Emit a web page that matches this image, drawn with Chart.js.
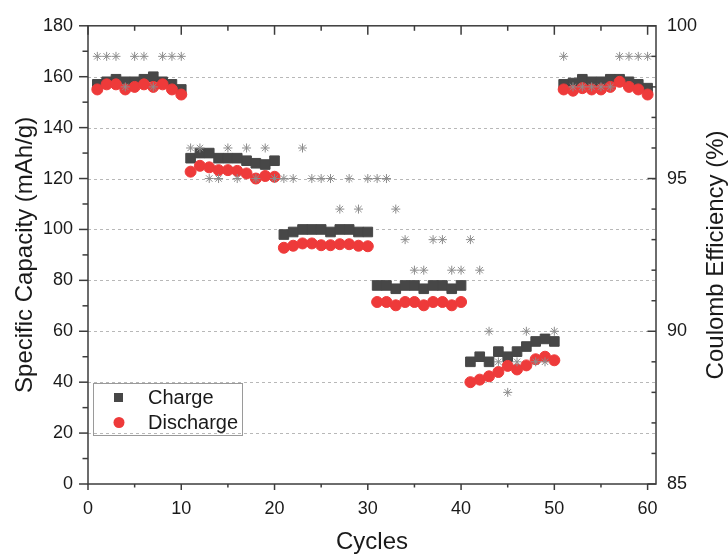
<!DOCTYPE html>
<html>
<head>
<meta charset="utf-8">
<script src="https://cdn.jsdelivr.net/npm/chart.js@4.4.1/dist/chart.umd.min.js"></script>
<style>
  html, body { margin: 0; padding: 0; background: #fff; }
  canvas { display: block; }
</style>
</head>
<body>
<canvas id="rateChart" width="728" height="554"></canvas>
<script>
// ===== data =====
const cycles = [
    1, 2, 3, 4, 5, 6, 7, 8, 9, 10,
    11, 12, 13, 14, 15, 16, 17, 18, 19, 20,
    21, 22, 23, 24, 25, 26, 27, 28, 29, 30,
    31, 32, 33, 34, 35, 36, 37, 38, 39, 40,
    41, 42, 43, 44, 45, 46, 47, 48, 49, 50,
    51, 52, 53, 54, 55, 56, 57, 58, 59, 60
];
const charge = [
    157, 158, 159, 158, 158, 159, 160, 158, 157, 155,
    128, 130, 130, 128, 128, 128, 127, 126, 125.5, 127,
    98, 99, 100, 100, 100, 99, 100, 100, 99, 99,
    78, 78, 76.7, 78, 78, 76.7, 78, 78, 76.7, 78,
    48, 50, 48, 52, 50, 52, 54, 56, 57, 56,
    157, 157.5, 159, 158, 158, 159, 159, 158, 157, 155.5
];
const discharge = [
    155, 157, 157, 155, 156, 157, 156, 157, 155, 153,
    122.7, 125, 124.4, 123.3, 123.3, 123, 122, 120, 121, 120.7,
    92.8, 93.6, 94.5, 94.5, 93.8, 93.8, 94.2, 94.2, 93.6, 93.4,
    71.5, 71.5, 70.2, 71.5, 71.5, 70.2, 71.5, 71.5, 70.2, 71.5,
    40, 41, 42.3, 44, 46.4, 45, 46.6, 49, 50, 48.6,
    155, 154.5, 155.5, 155, 155, 156, 158, 156, 155, 153
];
const coulombEff = [
    99, 99, 99, 98, 99, 99, 98, 99, 99, 99,
    96, 96, 95, 95, 96, 95, 96, 95, 96, 95,
    95, 95, 96, 95, 95, 95, 94, 95, 94, 95,
    95, 95, 94, 93, 92, 92, 93, 93, 92, 92,
    93, 92, 90, 89, 88, 89, 90, 89, 89, 90,
    99, 98, 98, 98, 98, 98, 99, 99, 99, 99
];

const xTicks = [0, 10, 20, 30, 40, 50, 60];
const xMinorTicks = [5, 15, 25, 35, 45, 55];
const yTicks = [0, 20, 40, 60, 80, 100, 120, 140, 160, 180];
const yMinorTicks = [10, 30, 50, 70, 90, 110, 130, 150, 170];
const yGrid = [20, 40, 60, 80, 100, 120, 140, 160];
const y1Ticks = [85, 90, 95, 100];
const y1MinorTicks = [86, 87, 88, 89, 91, 92, 93, 94, 96, 97, 98, 99];

const legendItems = ['Charge', 'Discharge'];
const rightTitle = 'Coulomb Efficiency (%)';

const FONT = "'Liberation Sans', Arial, sans-serif";
const AXIS = '#3c3c3c';
const TEXT = '#1a1a1a';
const CHARGE = '#474747';
const DISCHARGE = '#ee3a3a';
const STAR = '#8c8c8c';

const toPoints = vals => cycles.map((c, i) => ({ x: c, y: vals[i] }));

// ===== frame, ticks, grid, legend =====
const framePlugin = {
    id: 'framePlugin',
    beforeDatasetsDraw(chart) {
        const { ctx, chartArea: a, scales: { y } } = chart;
        ctx.save();
        ctx.strokeStyle = '#b8b8b8';
        ctx.lineWidth = 1;
        ctx.setLineDash([3, 3]);
        yGrid.forEach(v => {
            const py = Math.round(y.getPixelForValue(v)) + 0.5;
            ctx.beginPath();
            ctx.moveTo(a.left, py);
            ctx.lineTo(a.right, py);
            ctx.stroke();
        });
        ctx.restore();
    },
    afterDraw(chart) {
        const { ctx, chartArea: a, scales: { x, y, y1 } } = chart;
        ctx.save();
        ctx.strokeStyle = AXIS;
        ctx.lineWidth = 1.5;
        ctx.strokeRect(a.left, a.top, a.right - a.left, a.bottom - a.top);

        const line = (x0, y0, x1, y1p) => {
            ctx.beginPath();
            ctx.moveTo(x0, y0);
            ctx.lineTo(x1, y1p);
            ctx.stroke();
        };
        // bottom (outward) and top (inward)
        xTicks.forEach(v => {
            const px = x.getPixelForValue(v);
            line(px, a.bottom, px, a.bottom + 6);
            line(px, a.top, px, a.top + 9);
        });
        xMinorTicks.forEach(v => {
            const px = x.getPixelForValue(v);
            line(px, a.bottom, px, a.bottom + 3.5);
            line(px, a.top, px, a.top + 5);
        });
        // left (outward)
        yTicks.forEach(v => {
            const py = y.getPixelForValue(v);
            line(a.left - 9, py, a.left, py);
        });
        yMinorTicks.forEach(v => {
            const py = y.getPixelForValue(v);
            line(a.left - 5.5, py, a.left, py);
        });
        // right (inward)
        y1Ticks.forEach(v => {
            const py = y1.getPixelForValue(v);
            line(a.right - 8.5, py, a.right, py);
        });
        y1MinorTicks.forEach(v => {
            const py = y1.getPixelForValue(v);
            line(a.right - 4.5, py, a.right, py);
        });

        // right axis title, reading bottom to top
        ctx.fillStyle = TEXT;
        ctx.font = `24px ${FONT}`;
        ctx.textAlign = 'center';
        ctx.textBaseline = 'middle';
        ctx.translate(716, (a.top + a.bottom) / 2);
        ctx.rotate(-Math.PI / 2);
        ctx.fillText(rightTitle, 0, 0);
        ctx.restore();

        // legend box
        ctx.save();
        const lx = a.left + 5, ly = a.bottom - 101;
        ctx.strokeStyle = '#9a9a9a';
        ctx.lineWidth = 1;
        ctx.strokeRect(lx + 0.5, ly + 0.5, 149, 52);
        ctx.fillStyle = CHARGE;
        ctx.fillRect(lx + 21, ly + 10, 9, 9);
        ctx.fillStyle = DISCHARGE;
        ctx.beginPath();
        ctx.arc(lx + 26, ly + 39.5, 5.5, 0, Math.PI * 2);
        ctx.fill();
        ctx.fillStyle = TEXT;
        ctx.font = `20px ${FONT}`;
        ctx.textAlign = 'left';
        ctx.textBaseline = 'middle';
        ctx.fillText(legendItems[0], lx + 55, ly + 15);
        ctx.fillText(legendItems[1], lx + 55, ly + 40);
        ctx.restore();
    }
};

const tickFont = { family: FONT, size: 18 };

new Chart(document.getElementById('rateChart'), {
    type: 'scatter',
    data: {
        datasets: [
            {
                label: 'Coulomb Efficiency',
                data: toPoints(coulombEff),
                yAxisID: 'y1',
                pointStyle: 'star',
                pointRadius: 4.5,
                borderWidth: 1,
                borderColor: STAR,
                backgroundColor: STAR,
                order: 0
            },
            {
                label: legendItems[1],
                data: toPoints(discharge),
                yAxisID: 'y',
                pointStyle: 'circle',
                pointRadius: 5.5,
                borderWidth: 1,
                borderColor: DISCHARGE,
                backgroundColor: DISCHARGE,
                order: 1
            },
            {
                label: legendItems[0],
                data: toPoints(charge),
                yAxisID: 'y',
                pointStyle: 'rect',
                pointRadius: 6.8,
                borderWidth: 1,
                borderColor: CHARGE,
                backgroundColor: CHARGE,
                order: 2
            }
        ]
    },
    options: {
        responsive: false,
        animation: false,
        layout: { padding: { top: 25, left: 0, right: 0, bottom: 0 } },
        plugins: { legend: { display: false }, tooltip: { enabled: false } },
        scales: {
            x: {
                type: 'linear',
                position: 'bottom',
                min: 0,
                max: 60.9,
                afterBuildTicks: s => { s.ticks = xTicks.map(v => ({ value: v })); },
                afterFit: s => { s.height = 70; },
                grid: { display: false, drawTicks: false },
                border: { display: false },
                ticks: { font: tickFont, color: TEXT, padding: 14, maxRotation: 0 },
                title: { display: true, text: 'Cycles', color: TEXT, font: { family: FONT, size: 24, lineHeight: 1 }, padding: 0 }
            },
            y: {
                position: 'left',
                min: 0,
                max: 180,
                afterBuildTicks: s => { s.ticks = yTicks.map(v => ({ value: v })); },
                afterFit: s => { s.width = 88; },
                grid: { display: false, drawTicks: false },
                border: { display: false },
                ticks: { font: tickFont, color: TEXT, padding: 15 },
                title: { display: true, text: 'Specific Capacity (mAh/g)', color: TEXT, font: { family: FONT, size: 24, lineHeight: 1 }, padding: { top: 13, bottom: 0 } }
            },
            y1: {
                position: 'right',
                min: 85,
                max: 100,
                afterBuildTicks: s => { s.ticks = y1Ticks.map(v => ({ value: v })); },
                afterFit: s => { s.width = 72; },
                grid: { display: false, drawTicks: false },
                border: { display: false },
                ticks: { font: tickFont, color: TEXT, padding: 11 }
            }
        }
    },
    plugins: [framePlugin]
});
</script>
</body>
</html>
